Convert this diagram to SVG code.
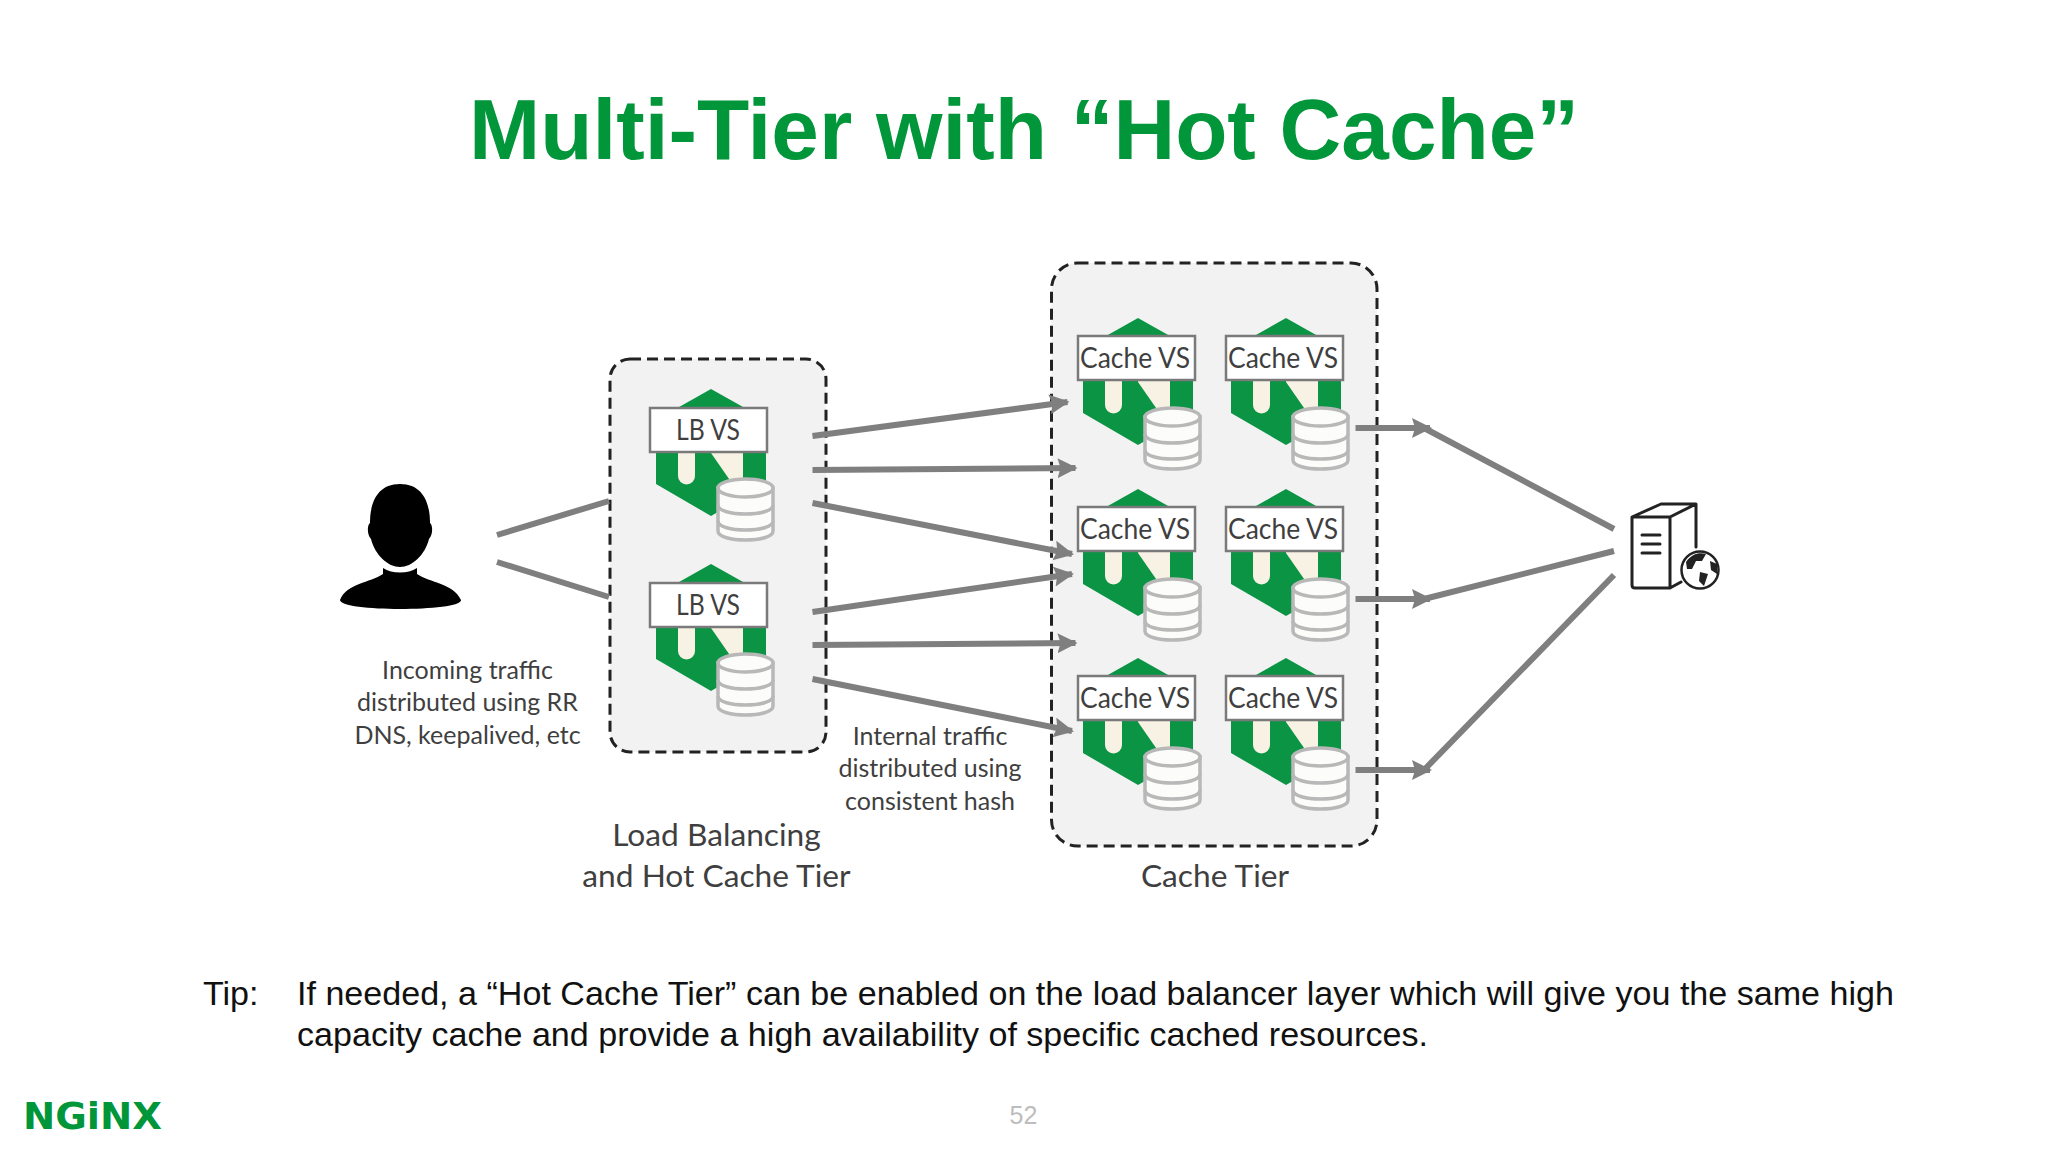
<svg xmlns="http://www.w3.org/2000/svg" width="2048" height="1152" viewBox="0 0 2048 1152">
<style>
.panel{fill:#f2f2f3;stroke:#222;stroke-width:3;stroke-dasharray:11 6}
.conn{fill:none;stroke:#7f7f7f;stroke-width:6}
.lbl{font-family:"Lato","Carlito","Liberation Sans",sans-serif;fill:#3f3f3f;text-anchor:middle}
.nl{font-size:29px}
.sm{font-size:25px}
.lg{font-size:31.700px}
.tip{font-family:"Liberation Sans",Arial,sans-serif;font-size:34.100px;fill:#111}
.box{fill:#fff;stroke:#7a7a7a;stroke-width:2.500}
.ic{fill:none;stroke:#222;stroke-width:3;stroke-linejoin:round;stroke-linecap:round}
</style>
<defs>
<g id="base">
<polygon points="0,0 55,31 55,95 0,127 -55,95 -55,31" fill="#0a9444"/>
<path d="M-33,50H-16V87a8.500,8.500 0 0 1-17,0Z" fill="#f8f2e4"/>
<polygon points="0,50 32,50 32,100 25,100 0,64" fill="#f8f2e4"/>
<g fill="#fff" stroke="#b8b8b8" stroke-width="3.500">
<path d="M7,99V142C7,154 62,154 62,142V99Z" fill="#fcfcfa"/>
<ellipse cx="34.500" cy="99" rx="27.500" ry="9" fill="#fcfcfa"/>
<path d="M7,116C7,128 62,128 62,116M7,132C7,144 62,144 62,132" fill="none"/>
</g>
</g>
<marker id="ah" markerUnits="userSpaceOnUse" markerWidth="22" markerHeight="22" refX="18" refY="10" orient="auto"><path d="M0,0L20,10L0,20L3,10Z" fill="#7f7f7f"/></marker>
</defs>
<rect width="2048" height="1152" fill="#fff"/>
<text id="title" x="1024" y="159" text-anchor="middle" font-family="Liberation Sans,Arial,sans-serif" font-weight="700" font-size="85.500" fill="#009639">Multi-Tier with “Hot Cache”</text>
<g id="lb-tier"><rect class="panel" x="610" y="359" width="216" height="393" rx="20"/></g>
<g id="cache-tier"><rect class="panel" x="1051.500" y="263" width="325.500" height="583" rx="26"/></g>

<g id="connectors">
<path class="conn" d="M497,535L609,501M497,562L609,597"/>
<path class="conn" marker-end="url(#ah)" d="M812.500,436L1067.500,402"/>
<path class="conn" marker-end="url(#ah)" d="M812.500,470L1075.500,468"/>
<path class="conn" marker-end="url(#ah)" d="M812.500,503L1072,554"/>
<path class="conn" marker-end="url(#ah)" d="M812.500,612L1072,574"/>
<path class="conn" marker-end="url(#ah)" d="M812.500,645L1075.500,643"/>
<path class="conn" marker-end="url(#ah)" d="M812.500,679L1072,731"/>
<path class="conn" marker-end="url(#ah)" d="M1355.500,428H1430"/>
<path class="conn" marker-end="url(#ah)" d="M1355.500,599H1430"/>
<path class="conn" marker-end="url(#ah)" d="M1355.500,770H1430"/>
<path class="conn" d="M1424,428L1614,529M1424,599L1614,551M1424,770L1614,575"/>
</g>

<g id="user">
<path d="M400,484C423,484 430,503 430,523C433,525 433,535 429,539C425,555 412,567 400,567C388,567 375,555 371,539C367,535 367,525 370,523C370,503 377,484 400,484Z" fill="#000"/>
<path d="M383,568C392,574 408,574 417,568V574C430,583 453,583 461,600C462,606 430,609 400,609C370,609 340,606 340,600C347,583 370,583 383,574Z" fill="#000"/>
</g>

<g id="lb-vs-1"><use href="#base" x="711" y="389"/><rect class="box" x="650" y="408" width="117" height="44"/><text class="lbl nl" x="708" y="440" textLength="64" lengthAdjust="spacingAndGlyphs">LB VS</text></g>
<g id="lb-vs-2"><use href="#base" x="711" y="564"/><rect class="box" x="650" y="583" width="117" height="44"/><text class="lbl nl" x="708" y="615" textLength="64" lengthAdjust="spacingAndGlyphs">LB VS</text></g>

<g id="cache-vs-1"><use href="#base" x="1138" y="318"/><rect class="box" x="1078" y="336" width="117" height="44"/><text class="lbl nl" x="1135" y="368" textLength="110" lengthAdjust="spacingAndGlyphs">Cache VS</text></g>
<g id="cache-vs-2"><use href="#base" x="1286" y="318"/><rect class="box" x="1226" y="336" width="117" height="44"/><text class="lbl nl" x="1283" y="368" textLength="110" lengthAdjust="spacingAndGlyphs">Cache VS</text></g>
<g id="cache-vs-3"><use href="#base" x="1138" y="489"/><rect class="box" x="1078" y="507" width="117" height="44"/><text class="lbl nl" x="1135" y="539" textLength="110" lengthAdjust="spacingAndGlyphs">Cache VS</text></g>
<g id="cache-vs-4"><use href="#base" x="1286" y="489"/><rect class="box" x="1226" y="507" width="117" height="44"/><text class="lbl nl" x="1283" y="539" textLength="110" lengthAdjust="spacingAndGlyphs">Cache VS</text></g>
<g id="cache-vs-5"><use href="#base" x="1138" y="658"/><rect class="box" x="1078" y="676" width="117" height="44"/><text class="lbl nl" x="1135" y="708" textLength="110" lengthAdjust="spacingAndGlyphs">Cache VS</text></g>
<g id="cache-vs-6"><use href="#base" x="1286" y="658"/><rect class="box" x="1226" y="676" width="117" height="44"/><text class="lbl nl" x="1283" y="708" textLength="110" lengthAdjust="spacingAndGlyphs">Cache VS</text></g>

<g id="origin-server">
<path class="ic" d="M1632,517L1661,504H1696L1670,517ZM1632,517V585Q1632,588 1635,588H1670L1681,582M1670,517V588M1696,504V547"/>
<path class="ic" d="M1642,535H1660M1642,544H1660M1642,553H1660" stroke-width="2.500"/>
<circle cx="1700" cy="570" r="18.500" fill="#fff" stroke="#222" stroke-width="2.500"/>
<path d="M1686,562C1692,553 1700,552 1706,554L1702,561L1696,561L1692,569L1687,569ZM1700,572L1708,574L1704,586L1699,581ZM1710,561L1717,564L1717,574L1711,570Z" fill="#222"/>
</g>

<g id="labels">
<text class="lbl sm" x="467.500" y="679">Incoming traffic</text>
<text class="lbl sm" x="467.500" y="711">distributed using RR</text>
<text class="lbl sm" x="467.500" y="744">DNS, keepalived, etc</text>
<text class="lbl sm" x="930" y="745">Internal traffic</text>
<text class="lbl sm" x="930" y="777">distributed using</text>
<text class="lbl sm" x="930" y="810">consistent hash</text>
<text class="lbl lg" x="716.500" y="846">Load Balancing</text>
<text class="lbl lg" x="716.500" y="887">and Hot Cache Tier</text>
<text class="lbl lg" x="1215" y="887">Cache Tier</text>
</g>

<g id="tip">
<text class="tip" x="203" y="1005">Tip:</text>
<text class="tip" x="297" y="1005">If needed, a “Hot Cache Tier” can be enabled on the load balancer layer which will give you the same high</text>
<text class="tip" x="297" y="1046">capacity cache and provide a high availability of specific cached resources.</text>
</g>
<text id="page" x="1023.500" y="1124" text-anchor="middle" font-family="Liberation Sans,Arial,sans-serif" font-size="25" fill="#bdbdbd">52</text>
<text id="logo" x="23" y="1129" font-family="DejaVu Sans,sans-serif" font-weight="700" font-size="38" textLength="139" lengthAdjust="spacingAndGlyphs" fill="#009639">NGiNX</text>
</svg>
